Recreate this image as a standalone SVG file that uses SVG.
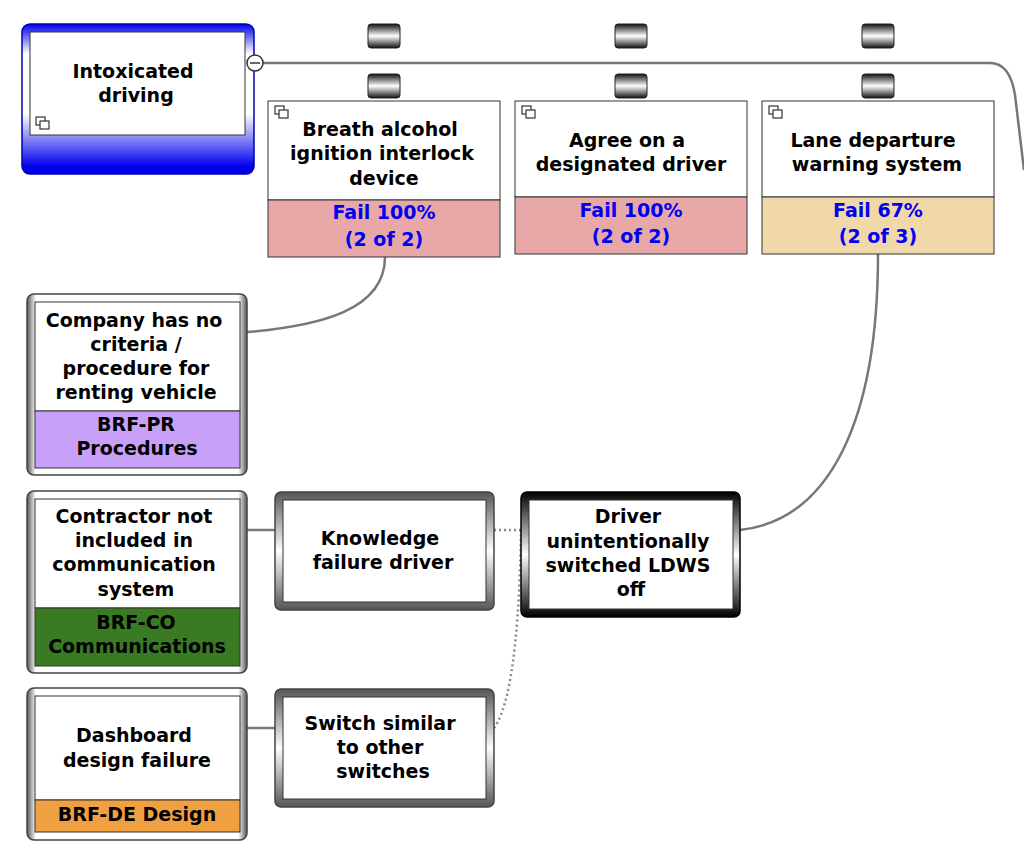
<svg xmlns="http://www.w3.org/2000/svg" width="1024" height="851" viewBox="0 0 1024 851">
<defs>
<linearGradient id="gb" x1="0" y1="0" x2="0" y2="1"><stop offset="0" stop-color="#0000ee"/><stop offset="0.2" stop-color="#ffffff"/><stop offset="0.6" stop-color="#ffffff"/><stop offset="0.95" stop-color="#0000ee"/></linearGradient>
<linearGradient id="gcap" x1="0" y1="0" x2="0" y2="1"><stop offset="0" stop-color="#111"/><stop offset="0.5" stop-color="#fff"/><stop offset="1" stop-color="#111"/></linearGradient>
<linearGradient id="gg" x1="0" y1="0" x2="1" y2="0"><stop offset="0" stop-color="#555"/><stop offset="0.04" stop-color="#fff"/><stop offset="0.96" stop-color="#fff"/><stop offset="1" stop-color="#555"/></linearGradient>
<linearGradient id="gk" x1="0" y1="0" x2="0" y2="1"><stop offset="0" stop-color="#555"/><stop offset="0.5" stop-color="#fff"/><stop offset="1" stop-color="#555"/></linearGradient>
<linearGradient id="gd" x1="0" y1="0" x2="0" y2="1"><stop offset="0" stop-color="#000"/><stop offset="0.5" stop-color="#fff"/><stop offset="1" stop-color="#000"/></linearGradient>
<g id="ico"><rect x="0" y="0" width="9" height="8" fill="#fff" stroke="#333" stroke-width="1.2"/><rect x="4" y="4" width="9" height="8" fill="#fff" stroke="#333" stroke-width="1.2"/></g>
</defs>
<style>
text{font-family:"DejaVu Sans",Verdana,sans-serif;font-weight:bold;font-size:19px;fill:#000;text-anchor:middle}
.b{fill:#0000ee}
.cap{fill:url(#gcap);stroke:#222;stroke-width:1}
.ln{fill:none;stroke:#777;stroke-width:2.5}
.dt{fill:none;stroke:#888;stroke-width:2.5;stroke-dasharray:2 3}
.bx{stroke:#333;stroke-width:1}
</style>
<rect width="1024" height="851" fill="#fff"/>
<g id="connectors">
<path class="ln" d="M262 63 H990 Q1010 63 1015 95 L1024 170"/>
<path class="ln" d="M385 257 C385 310 320 326 247 332"/>
<path class="ln" d="M247 530 H275"/>
<path class="ln" d="M247 728 H275"/>
<path class="dt" d="M494 530 H521"/>
<path class="dt" d="M494 728 C515 700 520 600 521 530"/>
<path class="ln" d="M740 530 C830 520 878 420 878 254"/>
</g>
<g id="barriers-caps">
<rect class="cap" x="368" y="24" width="32" height="24" rx="3"/><rect class="cap" x="368" y="74" width="32" height="24" rx="3"/>
<rect class="cap" x="615" y="24" width="32" height="24" rx="3"/><rect class="cap" x="615" y="74" width="32" height="24" rx="3"/>
<rect class="cap" x="862" y="24" width="32" height="24" rx="3"/><rect class="cap" x="862" y="74" width="32" height="24" rx="3"/>
</g>
<g id="intoxicated">
<rect x="22" y="24" width="232" height="150" rx="8" fill="url(#gb)" stroke="#0000aa" stroke-width="1.5"/>
<rect x="30" y="32" width="215" height="103" fill="#fff" stroke="#333"/>
<use href="#ico" x="36" y="117"/>
<text x="133" y="78">Intoxicated</text><text x="136" y="102">driving</text>
<circle cx="255" cy="63" r="8" fill="#fff" stroke="#333" stroke-width="1.5"/><path d="M250 63 H260" stroke="#333" stroke-width="1.5"/>
</g>
<g id="breath">
<rect class="bx" x="268" y="101" width="232" height="99" fill="#fff"/>
<rect class="bx" x="268" y="200" width="232" height="57" fill="#e8a8a8"/>
<use href="#ico" x="275" y="106"/>
<text x="380" y="136">Breath alcohol</text><text x="382" y="160">ignition interlock</text><text x="384" y="185">device</text>
<text class="b" x="384" y="219">Fail 100%</text><text class="b" x="384" y="246">(2 of 2)</text>
</g>
<g id="designated">
<rect class="bx" x="515" y="101" width="232" height="96" fill="#fff"/>
<rect class="bx" x="515" y="197" width="232" height="57" fill="#e8a8a8"/>
<use href="#ico" x="522" y="106"/>
<text x="627" y="147">Agree on a</text><text x="631" y="171">designated driver</text>
<text class="b" x="631" y="217">Fail 100%</text><text class="b" x="631" y="243">(2 of 2)</text>
</g>
<g id="ldws">
<rect class="bx" x="762" y="101" width="232" height="96" fill="#fff"/>
<rect class="bx" x="762" y="197" width="232" height="57" fill="#f0d8a8"/>
<use href="#ico" x="769" y="106"/>
<text x="873" y="147">Lane departure</text><text x="877" y="171">warning system</text>
<text class="b" x="878" y="217">Fail 67%</text><text class="b" x="878" y="243">(2 of 3)</text>
</g>
<g id="company">
<rect x="27" y="294" width="220" height="181" rx="7" fill="url(#gg)" stroke="#444" stroke-width="1.5"/>
<rect class="bx" x="35" y="302" width="205" height="109" fill="#fff"/>
<rect class="bx" x="35" y="411" width="205" height="57" fill="#c8a0f8"/>
<text x="134" y="327">Company has no</text><text x="136" y="351">criteria /</text><text x="136" y="375">procedure for</text><text x="136" y="399">renting vehicle</text>
<text x="136" y="431">BRF-PR</text><text x="137" y="455">Procedures</text>
</g>
<g id="contractor">
<rect x="27" y="491" width="220" height="182" rx="7" fill="url(#gg)" stroke="#444" stroke-width="1.5"/>
<rect class="bx" x="35" y="499" width="205" height="109" fill="#fff"/>
<rect class="bx" x="35" y="608" width="205" height="58" fill="#3a7a22"/>
<text x="134" y="523">Contractor not</text><text x="134" y="547">included in</text><text x="134" y="571">communication</text><text x="136" y="596">system</text>
<text x="136" y="629">BRF-CO</text><text x="137" y="653">Communications</text>
</g>
<g id="dashboard">
<rect x="27" y="688" width="220" height="152" rx="7" fill="url(#gg)" stroke="#444" stroke-width="1.5"/>
<rect class="bx" x="35" y="696" width="205" height="104" fill="#fff"/>
<rect class="bx" x="35" y="800" width="205" height="32" fill="#f0a040"/>
<text x="134" y="742">Dashboard</text><text x="137" y="767">design failure</text>
<text x="137" y="821">BRF-DE Design</text>
</g>
<g id="knowledge">
<rect x="275" y="492" width="219" height="118" rx="6" fill="url(#gk)" stroke="#444" stroke-width="1.5"/>
<rect class="bx" x="283" y="500" width="203" height="102" fill="#fff"/>
<text x="380" y="545">Knowledge</text><text x="383" y="569">failure driver</text>
</g>
<g id="switch">
<rect x="275" y="689" width="219" height="118" rx="6" fill="url(#gk)" stroke="#444" stroke-width="1.5"/>
<rect class="bx" x="283" y="697" width="203" height="102" fill="#fff"/>
<text x="380" y="730">Switch similar</text><text x="380" y="754">to other</text><text x="383" y="778">switches</text>
</g>
<g id="driver">
<rect x="521" y="492" width="219" height="125" rx="6" fill="url(#gd)" stroke="#000" stroke-width="1.5"/>
<rect class="bx" x="529" y="500" width="204" height="109" fill="#fff"/>
<text x="628" y="523">Driver</text><text x="628" y="548">unintentionally</text><text x="628" y="572">switched LDWS</text><text x="631" y="596">off</text>
</g>
</svg>
